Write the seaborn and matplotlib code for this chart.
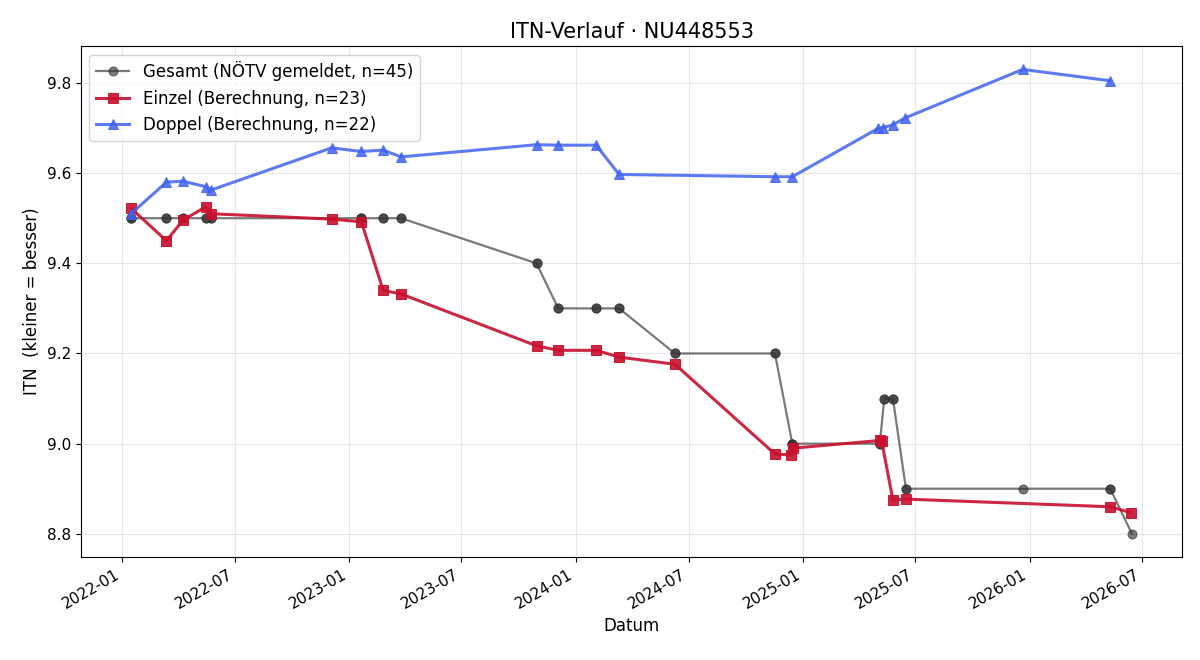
import pandas as pd
import numpy as np
import seaborn as sns
import matplotlib.pyplot as plt

# Gesamt (NÖTV gemeldet) - many reports share a date, hence the counts
gesamt_dates = ['2022-01-15', '2022-03-13', '2022-04-09', '2022-05-15', '2022-05-23',
                '2023-01-21', '2023-02-25', '2023-03-26', '2023-10-30', '2023-12-04',
                '2024-02-03', '2024-03-11', '2024-06-09', '2024-11-17', '2024-12-15',
                '2025-05-05', '2025-05-12', '2025-05-26', '2025-06-16', '2025-12-22',
                '2026-05-11', '2026-06-15']
gesamt_itn = [9.5, 9.5, 9.5, 9.5, 9.5,
              9.5, 9.5, 9.5, 9.4, 9.3,
              9.3, 9.3, 9.2, 9.2, 9.0,
              9.0, 9.1, 9.1, 8.9, 8.9,
              8.9, 8.8]
gesamt_count = [3, 2, 2, 2, 2,
                3, 2, 2, 2, 2,
                2, 2, 2, 2, 3,
                2, 2, 2, 2, 1,
                2, 1]

# Einzel (Berechnung)
einzel_dates = ['2022-01-15', '2022-03-13', '2022-04-09', '2022-05-15', '2022-05-23',
                '2022-12-04', '2023-01-21', '2023-02-25', '2023-03-26', '2023-10-30',
                '2023-12-04', '2024-02-03', '2024-03-11', '2024-06-09', '2024-11-17',
                '2024-12-13', '2024-12-16', '2025-05-05', '2025-05-08', '2025-05-26',
                '2025-06-16', '2026-05-11', '2026-06-13']
einzel_itn = [9.522, 9.450, 9.496, 9.525, 9.510,
              9.498, 9.492, 9.340, 9.332, 9.217,
              9.207, 9.207, 9.192, 9.176, 8.977,
              8.975, 8.990, 9.007, 9.005, 8.875,
              8.877, 8.860, 8.847]

# Doppel (Berechnung)
doppel_dates = ['2022-01-15', '2022-03-13', '2022-04-09', '2022-05-15', '2022-05-23',
                '2022-12-04', '2023-01-21', '2023-02-25', '2023-03-26', '2023-10-30',
                '2023-12-04', '2024-02-03', '2024-03-11', '2024-11-17', '2024-12-15',
                '2025-05-02', '2025-05-10', '2025-05-26', '2025-06-14', '2025-12-21',
                '2026-05-10']
doppel_itn = [9.510, 9.580, 9.582, 9.570, 9.562,
              9.656, 9.648, 9.651, 9.636, 9.663,
              9.662, 9.662, 9.597, 9.592, 9.592,
              9.699, 9.701, 9.707, 9.722, 9.830,
              9.805]


def plot_series(ax, dates, values, color, **kwargs):
    """ Draw one ITN series. """
    df = pd.DataFrame({'Datum': pd.to_datetime(dates), 'ITN': values})
    sns.lineplot(data=df, x='Datum', y='ITN', ax=ax, sort=False, estimator=None,
                 color=color, markeredgecolor=color, **kwargs)


def main():
    fig, ax = plt.subplots(figsize=(12, 6.6), dpi=100)

    plot_series(ax, np.repeat(gesamt_dates, gesamt_count),
                np.repeat(gesamt_itn, gesamt_count), '#333333', alpha=0.65,
                marker='o', markersize=6.5, linewidth=1.6,
                label='Gesamt (NÖTV gemeldet, n=45)')
    plot_series(ax, einzel_dates, einzel_itn, '#c8102e', alpha=0.9,
                marker='s', markersize=7.5, linewidth=2.2,
                label='Einzel (Berechnung, n=23)')
    plot_series(ax, doppel_dates, doppel_itn, '#4163f0', alpha=0.85,
                marker='^', markersize=7.5, linewidth=2.2,
                label='Doppel (Berechnung, n=22)')

    ax.set_title('ITN-Verlauf · NU448553', fontsize=15)
    ax.set_xlabel('Datum', fontsize=12)
    ax.set_ylabel('ITN  (kleiner = besser)', fontsize=12)
    ax.tick_params(labelsize=11)
    ax.grid(True, alpha=0.3)
    ax.legend(loc='upper left', fontsize=12)
    fig.autofmt_xdate()
    fig.subplots_adjust(left=0.0675, right=0.985, top=0.930, bottom=0.156)
    fig.savefig('out.png')


if __name__ == "__main__":
    main()
